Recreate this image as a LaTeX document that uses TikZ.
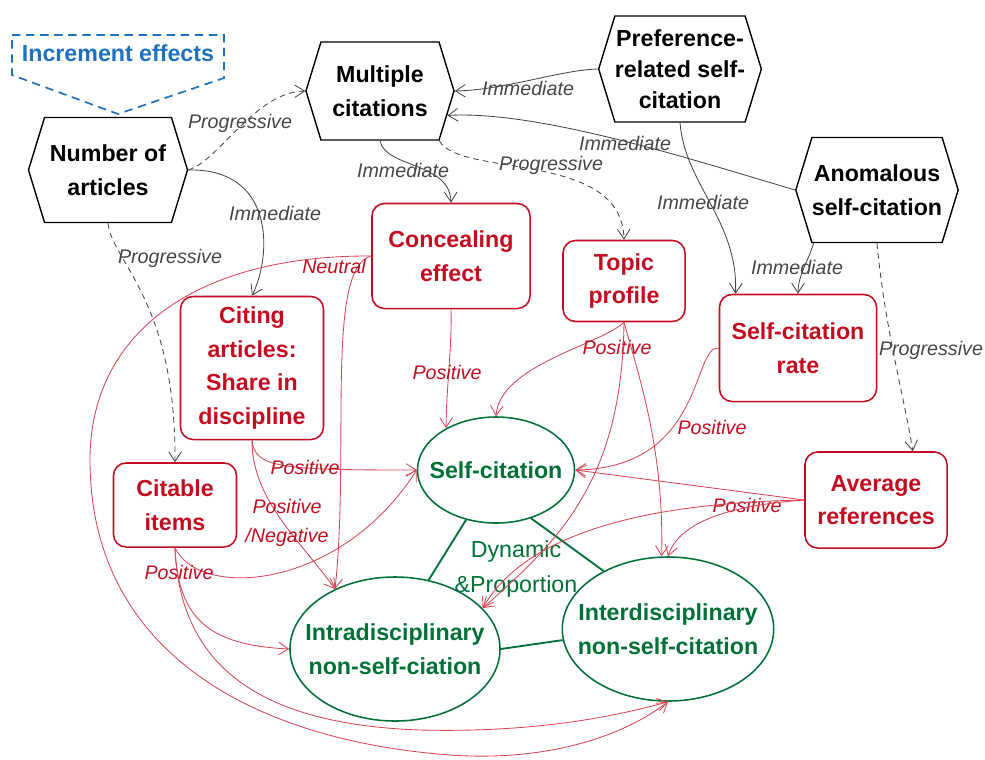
\documentclass[tikz,border=0pt]{standalone}
\usepackage{fontspec}
\setmainfont{Liberation Sans}
\usetikzlibrary{arrows.meta}
\usetikzlibrary{shapes.geometric,shapes.symbols}

\definecolor{boxred}{RGB}{195,12,32}
\definecolor{linered}{RGB}{215,70,85}
\definecolor{dkgreen}{RGB}{0,112,55}
\definecolor{incblue}{RGB}{30,112,192}
\definecolor{lnggray}{RGB}{70,70,70}

\newcommand{\boxfont}{\bfseries\fontsize{16.5}{24}\selectfont}
\newcommand{\labfont}{\itshape\fontsize{14}{21}\selectfont}

\begin{document}
\begin{tikzpicture}[x=0.025cm, y=-0.025cm,
  hexa/.style={signal, signal to=west and east, signal pointer angle=146,
    draw=black, line width=1pt, inner sep=0pt, align=center, font=\boxfont},
  block/.style={rectangle, rounded corners=9pt, draw=boxred, line width=1.1pt,
    text=boxred, inner sep=0pt, align=center, font=\boxfont},
  oval/.style={ellipse, draw=dkgreen, line width=1.1pt, text=dkgreen,
    inner xsep=-11pt, inner ysep=0pt, align=center, font=\boxfont},
  imm/.style={draw=lnggray, line width=0.6pt, -{Straight Barb[length=7pt,width=9pt]}},
  prog/.style={imm, dash pattern=on 4pt off 3pt},
  eff/.style={draw=linered, line width=0.6pt, -{Straight Barb[length=7pt,width=9pt]}},
  tie/.style={draw=dkgreen, line width=1.3pt},
  lab/.style={font=\labfont, text=lnggray, inner sep=0pt, align=center},
  rlab/.style={lab, text=boxred}]
\useasboundingbox (0,0) rectangle (985,759);

% causes
\node at (118, 53) (inc) [text=incblue, font=\boxfont] {Increment effects};
\coordinate (inctip) at (118,114);
\draw [incblue, line width=1.2pt, dash pattern=on 6pt off 4pt]
  (12,35) -- (224,35) -- (224,78) -- (inctip) -- (12,75) -- cycle;
\node at (108,170) (num)  [hexa, minimum width=3.975cm, minimum height=2.625cm] {Number of\\articles};
\node at (380, 91) (mult) [hexa, minimum width=3.7cm, minimum height=2.45cm] {Multiple\\citations};
\node at (680, 69) (pref) [hexa, minimum width=3.875cm, minimum height=2.65cm,
  font=\bfseries\fontsize{16.5}{22}\selectfont] {Preference-\\related self-\\citation};
\node at (877,190) (anom) [hexa, minimum width=3.975cm, minimum height=2.625cm] {Anomalous\\self-citation};

% mediators
\node at (451,256) (conc)    [block, minimum width=3.95cm, minimum height=2.625cm] {Concealing\\effect};
\node at (624,281) (topic)   [block, minimum width=3.05cm, minimum height=2.025cm] {Topic\\profile};
\node at (798,348) (rate)    [block, minimum width=3.925cm, minimum height=2.675cm] {Self-citation\\rate};
\node at (252,368) (citing)  [block, minimum width=3.575cm, minimum height=3.575cm] {Citing\\articles:\\Share in\\discipline};
\node at (175,505) (citable) [block, minimum width=3.075cm, minimum height=2.1cm] {Citable\\items};
\node at (876,500) (avg)     [block, minimum width=3.55cm, minimum height=2.4cm] {Average\\references};

% outcomes
\node at (496,470) (self)  [oval, minimum width=3.925cm, minimum height=2.65cm] {Self-citation};
\node at (395,649) (intra) [oval, minimum width=5.25cm, minimum height=3.6cm] {Intradisciplinary\\non-self-ciation};
\node at (668,629) (inter) [oval, minimum width=5.25cm, minimum height=3.6cm] {Interdisciplinary\\non-self-citation};
\node at (516,569) (dyn) [text=dkgreen, align=center, font=\fontsize{16.5}{25}\selectfont] {Dynamic\\\&Proportion};
\draw [tie] (self.239) -- (intra.64);
\draw [tie] (self.306) -- (inter.138);
\draw [tie] (intra.east) -- (inter.186);

% immediate / progressive
\draw [prog] (num.east) .. controls (220,160) and (255,92) .. (mult.west) node[lab] at (240,123) {Progressive};
\draw [imm] (num.east) .. controls (275,168) and (272,255) .. (citing.north) node[lab] at (275,213) {Immediate};
\draw [prog] (num.south) .. controls (112,262) and (176,300) .. (citable.north) node[lab] at (170,258) {Progressive};
\draw [imm] (pref.west) .. controls (560,70) and (505,90) .. (mult.east) node[lab] at (528,88) {Immediate};
\draw [imm] (anom.west) .. controls (700,162) and (540,110) .. (mult.-20) node[lab] at (625,143) {Immediate};
\draw [imm] (mult.south) .. controls (385,168) and (450,162) .. (conc.north) node[lab] at (403,170) {Immediate};
\draw [prog] (mult.-40) .. controls (460,178) and (622,150) .. (topic.north) node[lab] at (551,165) {Progressive};
\draw [imm] (pref.south) .. controls (685,185) and (738,220) .. (rate.139) node[lab] at (703,202) {Immediate};
\draw [imm] (anom.220) .. controls (808,262) and (798,275) .. (rate.north) node[lab] at (797,267) {Immediate};
\draw [prog] (anom.south) .. controls (885,330) and (905,400) .. (avg.53) node[lab] at (931,350) {Progressive};

% effects
\draw [eff] (conc.south) .. controls (452,350) and (446,390) .. (self.140) node[rlab] at (447,372) {Positive};
\draw [eff] (topic.south) .. controls (600,345) and (500,365) .. (self.north) node[rlab] at (617,347) {Positive};
\draw [eff] (topic.south) .. controls (622,480) and (560,540) .. (intra.25);
\draw [eff] (topic.south) .. controls (640,380) and (664,450) .. (inter.95);
\draw [eff] (rate.west) .. controls (692,345) and (705,468) .. (self.east) node[rlab] at (712,427) {Positive};
\draw [eff] (avg.west) -- (self.east) node[rlab] at (747,505) {Positive};
\draw [eff] (avg.west) .. controls (640,503) and (525,535) .. (intra.25);
\draw [eff] (avg.west) .. controls (735,505) and (680,520) .. (inter.north);
\draw [eff] (conc.west) .. controls (325,268) and (350,450) .. (intra.135) node[rlab] at (334,266) {Neutral};
\draw [eff] (conc.west) .. controls (200,255) and (90,330) .. (90,460)
  .. controls (90,650) and (250,740) .. (450,755) .. controls (550,762) and (625,735) .. (inter.south);
\draw [eff] (citing.south) .. controls (255,468) and (280,470) .. (self.west) node[rlab] at (305,467) {Positive};
\draw [eff] (citing.south) .. controls (252,500) and (300,540) .. (intra.135)
  node[rlab, font=\itshape\fontsize{14}{21}\selectfont] at (287,523) {Positive\\/Negative};
\draw [eff] (citable.south) .. controls (200,600) and (340,590) .. (self.west) node[rlab] at (179,572) {Positive};
\draw [eff] (citable.south) .. controls (178,620) and (210,645) .. (intra.west);
\draw [eff] (citable.south) .. controls (180,680) and (280,725) .. (420,730)
  .. controls (540,733) and (620,715) .. (inter.south);
\end{tikzpicture}
\end{document}
